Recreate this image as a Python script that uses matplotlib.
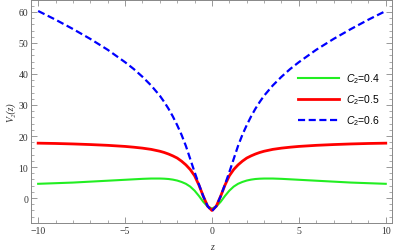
import numpy as np
import matplotlib
matplotlib.use("Agg")
import matplotlib.pyplot as plt
from matplotlib.ticker import MultipleLocator

#=========================#
#  data   #
#=========================#
# half grid z >= 0, the curves are symmetric in z
z_half = [0, 0.25, 0.5, 0.75, 1, 1.25, 1.5, 1.75, 2, 2.25, 2.5, 2.75, 3,
          3.5, 4, 4.5, 5, 6, 7, 8, 9, 10]
v_c04 = [-3.4, -2.7, -1.2, 0.7, 2.4, 3.7, 4.6, 5.2, 5.65, 5.95, 6.15, 6.25, 6.3,
         6.3, 6.2, 6.05, 5.9, 5.6, 5.3, 5.0, 4.8, 4.6]
v_c05 = [-4.0, -2.6, 0.6, 4.2, 7.2, 9.2, 10.7, 11.9, 12.9, 13.6, 14.2, 14.7, 15.1,
         15.7, 16.1, 16.4, 16.65, 17.0, 17.25, 17.45, 17.6, 17.7]
v_c06 = [-4.2, -2.6, 0.6, 4.4, 8.4, 12.6, 16.8, 20.4, 23.5, 26.3, 28.8, 31.0, 33.0,
         36.3, 39.1, 41.6, 43.8, 47.8, 51.3, 54.5, 57.5, 60.3]
labels = ["0.4", "0.5", "0.6"]


def mirror(zh, vh):
    # full curve from the half read on the right
    z = np.concatenate([-np.array(zh[:0:-1]), np.array(zh)])
    v = np.concatenate([np.array(vh[:0:-1]), np.array(vh)])
    return z, v


plt.rcParams["mathtext.fontset"] = "custom"
plt.rcParams["mathtext.it"] = "Liberation Sans:italic"
plt.rcParams["mathtext.rm"] = "Liberation Sans"

fig = plt.figure(figsize=(3.95, 2.53), dpi=100)
ax = fig.add_axes([0.079, 0.115, 0.913, 0.883])

styles = [
    dict(color="#22ee22", lw=1.5, ls="-"),
    dict(color="#ff0000", lw=2.0, ls="-"),
    dict(color="#0000ff", lw=1.6, ls=(0, (3.2, 1.6))),
]
for vals, lab, st in zip([v_c04, v_c05, v_c06], labels, styles):
    z, v = mirror(z_half, vals)
    ax.plot(z, v, label=r"$C_2$=" + lab, solid_joinstyle="round", **st)

ax.set_xlim(-10.4, 10.35)
ax.set_ylim(-8, 64)
ax.xaxis.set_major_locator(MultipleLocator(5))
ax.xaxis.set_minor_locator(MultipleLocator(1))
ax.yaxis.set_major_locator(MultipleLocator(10))
ax.yaxis.set_minor_locator(MultipleLocator(2))
ax.tick_params(which="both", direction="in", top=True, right=True,
               colors="#888888", labelcolor="#333333", labelsize=7, pad=2)
ax.tick_params(which="major", length=4, width=0.6)
ax.tick_params(which="minor", length=2, width=0.5)
for lb in ax.get_xticklabels() + ax.get_yticklabels():
    lb.set_fontfamily("Liberation Serif")
for s in ax.spines.values():
    s.set_color("#888888")
    s.set_linewidth(0.7)

# axis labels in serif italic like the frame labels
ax.set_xlabel("z", fontsize=7, color="#333333", labelpad=5,
              family="Liberation Serif", style="italic")
ax.set_ylabel("V\u2082(z)", fontsize=7, color="#333333", labelpad=2,
              family="Liberation Serif", style="italic")

leg = ax.legend(loc="upper left", bbox_to_anchor=(0.715, 0.72), frameon=False,
                handlelength=3.9, handletextpad=0.7, labelspacing=0.7,
                prop={"family": "Liberation Sans", "size": 7.5})

fig.savefig("out.png", dpi=100)
